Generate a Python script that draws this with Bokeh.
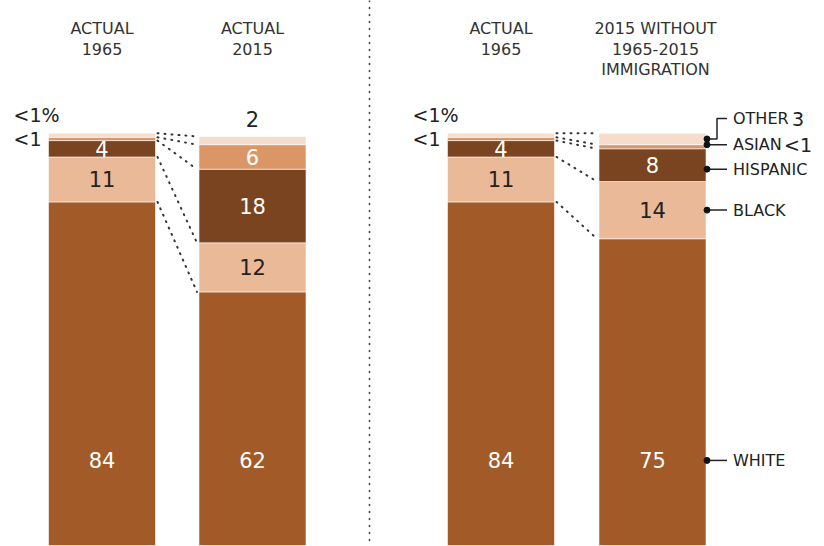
from bokeh.plotting import figure
from bokeh.models import Range1d, ColumnDataSource, Span
from bokeh.embed import file_html
from bokeh.resources import INLINE
from bokeh.core.properties import value

# ---------------- data ----------------
races = ["White", "Black", "Hispanic", "Asian", "Other"]
legend_names = ["WHITE", "BLACK", "HISPANIC", "ASIAN", "OTHER"]
actual_1965 = [84, 11, 4, 0.8, 1.0]
actual_2015 = [62, 12, 18, 6, 2]
no_immig_2015 = [75, 14, 8, 1.0, 2.8]
labels_1965 = ["84", "11", "4", "<1", "<1%"]
labels_2015 = ["62", "12", "18", "6", "2"]
labels_no_immig = ["75", "14", "8", "<1", "3"]
headers = ["ACTUAL\n1965", "ACTUAL\n2015", "ACTUAL\n1965",
           "2015 WITHOUT\n1965-2015\nIMMIGRATION"]

# ---------------- style / layout ----------------
colors = ["#a25a28", "#e9b998", "#7b4420", "#db9668", "#f6dccb"]
text_on = ["#ffffff", "#222222", "#ffffff", "#ffffff", "#222222"]
FONT = value("DejaVu Sans")
W, H = 824, 546
BASE = 545                # page row of the 0% baseline
K = 4.09                  # pixels per percentage point
bar_x = [101.5, 252, 500.5, 652]
bar_w = 107
divider_x = 369
white_label_y = 20.8      # white labels sit low in the bar
above_pad = 4.4           # labels above the bar top (in pct units)
legend_nudge_px = [0, 0, -4, 2, 0]   # small vertical nudges of the callouts


def sy(page_y):
    """page pixel row -> y data units"""
    return (BASE - page_y) / K


def cum(vals):
    out = [0.0]
    for v in vals:
        out.append(out[-1] + v)
    return out


bars = [(actual_1965, labels_1965), (actual_2015, labels_2015),
        (actual_1965, labels_1965), (no_immig_2015, labels_no_immig)]

p = figure(width=W, height=H, x_range=Range1d(0, W),
           y_range=Range1d(sy(H), sy(0)),
           output_backend="svg", toolbar_location=None, min_border=0,
           x_axis_location=None, y_axis_location=None,
           outline_line_color=None, background_fill_color="white",
           border_fill_color="white")
p.grid.visible = False

# ---- stacked bars ----
rx, rb, rt, rc = [], [], [], []
for i, (vals, _) in enumerate(bars):
    c = cum(vals)
    for j in range(len(vals)):
        rx.append(bar_x[i]); rb.append(c[j]); rt.append(c[j + 1]); rc.append(colors[j])
p.vbar(x="x", width=bar_w, bottom="b", top="t", fill_color="c",
       line_color="white", line_width=1, line_alpha=0.55,
       source=ColumnDataSource(dict(x=rx, b=rb, t=rt, c=rc)))

# ---- labels inside / around bars ----
tx, ty, tt, tc, ta, ts = [], [], [], [], [], []
def add(x, y, t, c, a="center", s="21px"):
    tx.append(x); ty.append(y); tt.append(t); tc.append(c); ta.append(a); ts.append(s)

for i, (vals, labs) in enumerate(bars):
    c = cum(vals)
    left = bar_x[i] - bar_w / 2
    for j, lab in enumerate(labs):
        mid = (c[j] + c[j + 1]) / 2
        if j == 0:
            add(bar_x[i], white_label_y, lab, text_on[j])
        elif j < 3:
            add(bar_x[i], mid, lab, text_on[j])
        elif vals is actual_1965:
            if j == 3:
                add(left - 35, mid, lab, "#222222", "left", "19px")
            else:
                add(left - 35, c[-1] + above_pad, lab, "#222222", "left", "19px")
        elif vals is actual_2015:
            if j == 3:
                add(bar_x[i], mid, lab, text_on[j])
            else:
                add(bar_x[i], c[-1] + above_pad, lab, "#222222")
p.text(x="x", y="y", text="t", text_color="c", text_align="a", text_font_size="s",
       text_baseline="middle", text_font=FONT,
       source=ColumnDataSource(dict(x=tx, y=ty, t=tt, c=tc, a=ta, s=ts)))

# ---- dotted connectors between bars ----
sx0, sy0, sx1, sy1 = [], [], [], []
for a, b in [(0, 1), (2, 3)]:
    ca, cb = cum(bars[a][0]), cum(bars[b][0])
    for j in range(1, len(ca)):
        sx0.append(bar_x[a] + bar_w / 2 + 2); sy0.append(ca[j])
        sx1.append(bar_x[b] - bar_w / 2 - 2); sy1.append(cb[j])
p.segment(x0="x0", y0="y0", x1="x1", y1="y1", line_color="#333333", line_width=2,
          line_dash="1 6", line_cap="round",
          source=ColumnDataSource(dict(x0=sx0, y0=sy0, x1=sx1, y1=sy1)))

# ---- divider ----
p.add_layout(Span(location=divider_x, dimension="height", line_color="#444444",
                  line_width=1.6, line_dash="1 6", line_cap="round"))

# ---- headers ----
hx, hy, ht = [], [], []
for i, h in enumerate(headers):
    for k, line in enumerate(h.split("\n")):
        hx.append(bar_x[i] + (3 if i == 3 else 0)); hy.append(sy(27.5 + 20.5 * k)); ht.append(line)
p.text(x="x", y="y", text="t", text_color="#333333", text_align="center",
       text_baseline="middle", text_font=FONT, text_font_size="16px",
       source=ColumnDataSource(dict(x=hx, y=hy, t=ht)))

# ---- legend annotations on the last bar ----
vals, labs = bars[3]
c = cum(vals)
right = bar_x[3] + bar_w / 2
dx, dy, lxs, lys, nx, ny, nt, vx, vy, vt = [], [], [], [], [], [], [], [], [], []
value_gap = [0, 0, 0, 51, 59]
for j, name in enumerate(legend_names):
    mid = white_label_y if j == 0 else (c[j] + c[j + 1]) / 2
    mid += legend_nudge_px[j] / K
    dx.append(right + 1); dy.append(mid)
    if j == 4:
        ly = c[-1] + 3.6
        lxs.append([right, right + 11, right + 11, right + 21])
        lys.append([mid, mid, ly, ly])
    else:
        ly = mid
        lxs.append([right, right + 21]); lys.append([mid, mid])
    nx.append(right + 27); ny.append(ly); nt.append(name)
    if j >= 3:
        vx.append(right + 27 + value_gap[j]); vy.append(ly); vt.append(labs[j])

p.multi_line(xs="xs", ys="ys", line_color="#222222", line_width=1.5,
             source=ColumnDataSource(dict(xs=lxs, ys=lys)))
p.scatter(x="x", y="y", size=6, fill_color="#111111", line_color="#111111",
          source=ColumnDataSource(dict(x=dx, y=dy)))
p.text(x="x", y="y", text="t", text_color="#222222", text_align="left",
       text_baseline="middle", text_font=FONT, text_font_size="16px",
       source=ColumnDataSource(dict(x=nx, y=ny, t=nt)))
p.text(x="x", y="y", text="t", text_color="#222222", text_align="left",
       text_baseline="middle", text_font=FONT, text_font_size="19px",
       source=ColumnDataSource(dict(x=vx, y=vy, t=vt)))

open("out.html", "w").write(file_html(p, INLINE))
